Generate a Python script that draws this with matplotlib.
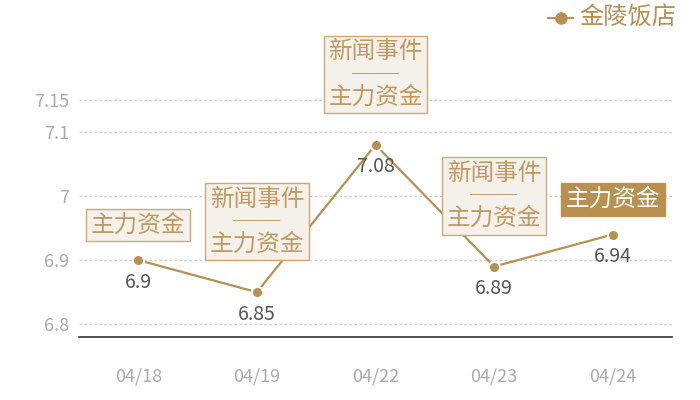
import matplotlib
matplotlib.use("Agg")
import matplotlib.pyplot as plt

plt.rcParams['font.family'] = ['Noto Sans CJK SC', 'DejaVu Sans']

categories = ["04/18", "04/19", "04/22", "04/23", "04/24"]
values = [6.9, 6.85, 7.08, 6.89, 6.94]
value_labels = ["6.9", "6.85", "7.08", "6.89", "6.94"]
events = ["主力资金", "新闻事件\n──\n主力资金", "新闻事件\n──\n主力资金", "新闻事件\n──\n主力资金", "主力资金"]
highlight = [False, False, False, False, True]
series_name = "金陵饭店"
y_ticks = [6.8, 6.9, 7.0, 7.1, 7.15]
y_tick_labels = ["6.8", "6.9", "7", "7.1", "7.15"]

gold = "#b8904f"
box_face = "#f4f0ea"
box_edge = "#cba978"
box_text = "#bf9a62"

fig = plt.figure(figsize=(7, 4), dpi=100)
ax = fig.add_axes([79/700, 1-337/400, (672-79)/700, (337-100)/400])
x = list(range(len(categories)))

ax.plot(x, values, color=gold, lw=1.6, zorder=3, clip_on=False)
ax.plot(x, values, 'o', color=gold, ms=8, mec='white', mew=1.5, zorder=4, clip_on=False)

ax.set_xlim(-0.5, len(categories) - 0.5)
ax.set_ylim(6.78, 7.15)
ax.set_yticks(y_ticks)
ax.set_yticklabels(y_tick_labels)
ax.set_xticks(x)
ax.set_xticklabels(categories)
ax.tick_params(axis='y', length=0, pad=7, labelsize=13, labelcolor='#aaaaaa')
ax.tick_params(axis='x', length=0, pad=22, labelsize=13, labelcolor='#aaaaaa')
for s in ['top', 'right', 'left']:
    ax.spines[s].set_visible(False)
ax.spines['bottom'].set_color('#333333')
ax.spines['bottom'].set_linewidth(1.2)
for yv in y_ticks:
    ax.axhline(yv, color='#cccccc', lw=0.9, ls=(0, (2, 2)), zorder=1)

for xi, v, lab in zip(x, values, value_labels):
    ax.annotate(lab, (xi, v), xytext=(0, -22), textcoords='offset pixels',
                ha='center', va='center', fontsize=14, color='#555555', zorder=5)

for xi, v, ev, hl in zip(x, values, events, highlight):
    two = "\n" in ev
    off = 70.5 if two else 35
    if hl:
        bbox = dict(boxstyle='square,pad=0.2', fc=gold, ec=gold, lw=1)
        tc = 'white'
    else:
        bbox = dict(boxstyle='square,pad=0.2', fc=box_face, ec=box_edge, lw=1)
        tc = box_text
    ax.annotate(ev, (xi, v), xytext=(0, off), textcoords='offset pixels',
                ha='center', va='center', multialignment='center', fontsize=17,
                color=tc, bbox=bbox, linespacing=0.97, zorder=6, annotation_clip=False)

# legend
fig.lines.append(plt.Line2D([548/700, 573/700], [1-18/400, 1-18/400], color=gold, lw=1.4,
                            transform=fig.transFigure))
fig.lines.append(plt.Line2D([561/700], [1-18/400], marker='o', color=gold, ms=8,
                            transform=fig.transFigure))
fig.text(579/700, 1-18/400, series_name, ha='left', va='center', fontsize=17.5, color=gold)

fig.savefig("out.png", dpi=100)
